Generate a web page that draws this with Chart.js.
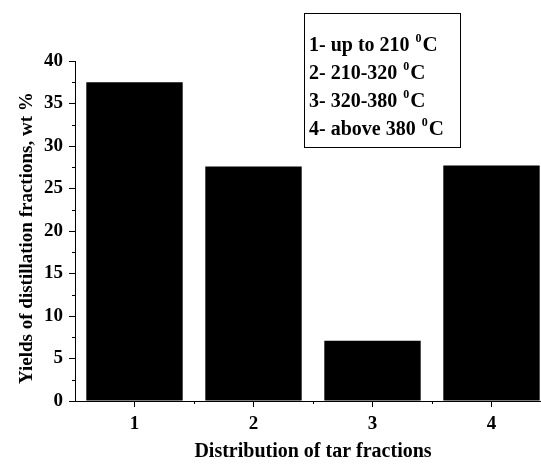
<!DOCTYPE html>
<html>
<head>
<meta charset="utf-8">
<script src="https://cdn.jsdelivr.net/npm/chart.js@4/dist/chart.umd.min.js"></script>
<style>
  html, body { margin: 0; padding: 0; background: #fff; overflow: hidden; }
  #caixa { width: 551px; height: 465px; }
</style>
</head>
<body>
<div id="caixa"><canvas id="grafico"></canvas></div>
<script>
// dados do grafico
const categorias = ['1', '2', '3', '4'];
const rendimentos = [37.5, 27.6, 7.1, 27.7];
const faixas = ['1- up to 210 ', '2- 210-320 ', '3- 320-380 ', '4- above 380 '];
const grau = '0';
const unidade = 'C';

const fonte = 'Liberation Serif, Times New Roman, serif';

// ticks menores, caixa da legenda
const extras = {
    id: 'extras',
    afterDraw(chart) {
        const ctx = chart.ctx;
        const sx = chart.scales.x;
        const sy = chart.scales.y;
        ctx.save();
        ctx.strokeStyle = '#000';
        ctx.lineWidth = 1;

        for (let v = 2.5; v < 40; v += 5) {
            const py = Math.round(sy.getPixelForValue(v)) + 0.5;
            ctx.beginPath();
            ctx.moveTo(sy.right - 3, py);
            ctx.lineTo(sy.right, py);
            ctx.stroke();
        }
        for (let i = 0; i < categorias.length - 1; i++) {
            const px = Math.round((sx.getPixelForValue(i) + sx.getPixelForValue(i + 1)) / 2) + 0.5;
            ctx.beginPath();
            ctx.moveTo(px, sx.top);
            ctx.lineTo(px, sx.top + 3);
            ctx.stroke();
        }

        // legenda
        ctx.strokeRect(304.5, 13.5, 156, 134);
        ctx.fillStyle = '#000';
        ctx.textBaseline = 'alphabetic';
        faixas.forEach((txt, i) => {
            const base = 51 + i * 28;
            ctx.font = 'bold 20px ' + fonte;
            ctx.fillText(txt, 309, base);
            let w = ctx.measureText(txt).width + 1;
            ctx.font = 'bold 12px ' + fonte;
            ctx.fillText(grau, 309 + w, base - 9);
            w += ctx.measureText(grau).width + 1;
            ctx.font = 'bold 21px ' + fonte;
            ctx.fillText(unidade, 309 + w, base);
        });
        ctx.restore();
    }
};

const ctxGrafico = document.getElementById('grafico');

const dados = {
    labels: categorias,
    datasets: [{
        data: rendimentos,
        backgroundColor: '#000',
        borderWidth: 0,
        barPercentage: 0.81,
        categoryPercentage: 1
    }]
};

const config = {
    type: 'bar',
    data: dados,
    plugins: [extras],
    options: {
        responsive: true,
        maintainAspectRatio: false,
        animation: false,
        layout: { padding: { top: 61, left: 16, right: 0, bottom: 0 } },
        scales: {
            x: {
                offset: true,
                afterFit(scale) { scale.height = 64; },
                grid: { offset: false, drawOnChartArea: false, tickLength: 6, color: '#000' },
                border: { display: true, color: '#000', width: 1 },
                ticks: {
                    color: '#000',
                    padding: 6,
                    font: { family: fonte, size: 19, weight: 'bold' }
                },
                title: {
                    display: true,
                    text: 'Distribution of tar fractions',
                    color: '#000',
                    padding: { top: 0, bottom: 0 },
                    font: { family: fonte, size: 20, weight: 'bold', lineHeight: 1.3 }
                }
            },
            y: {
                min: 0,
                max: 40,
                afterFit(scale) { scale.width = 59; },
                grid: { drawOnChartArea: false, tickLength: 6, color: '#000' },
                border: { display: true, color: '#000', width: 1 },
                ticks: {
                    stepSize: 5,
                    color: '#000',
                    padding: 6,
                    font: { family: fonte, size: 19, weight: 'bold' }
                },
                title: {
                    display: true,
                    text: 'Yields of distillation fractions, wt %   ',
                    color: '#000',
                    padding: { top: 0, bottom: 0 },
                    font: { family: fonte, size: 19, weight: 'bold' }
                }
            }
        },
        plugins: {
            legend: { display: false },
            tooltip: { enabled: false }
        }
    }
};

const grafico = new Chart(ctxGrafico, config);
</script>
</body>
</html>
